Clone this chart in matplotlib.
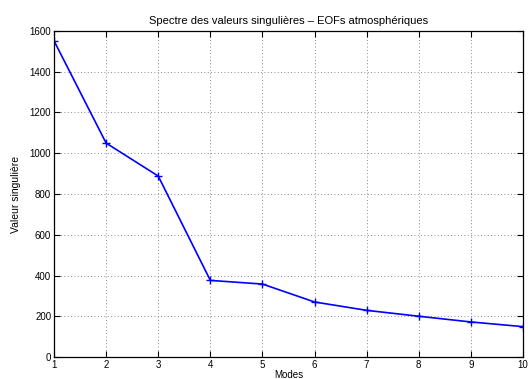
import matplotlib
matplotlib.use("Agg")
import matplotlib.pyplot as plt

plt.rcParams['font.family'] = ['Liberation Sans', 'DejaVu Sans']

modes = [1, 2, 3, 4, 5, 6, 7, 8, 9, 10]
valeurs = [1552, 1050, 888, 376, 358, 270, 229, 200, 172, 149]
yticks = [0, 200, 400, 600, 800, 1000, 1200, 1400, 1600]

fig = plt.figure(figsize=(5.28, 3.79), dpi=100)
ax = fig.add_axes([54/528, 22/379, 469/528, 326/379])
ax.plot(modes, valeurs, color='#0000ff', linewidth=1.2, marker='+', markersize=6, markeredgewidth=1.0)
ax.set_xlim(1, 10)
ax.set_ylim(0, 1600)
ax.set_xticks(modes)
ax.set_yticks(yticks)
ax.tick_params(direction='in', top=True, right=True, labelsize=7, length=4, width=0.8, pad=2)
ax.grid(True, linestyle=(0, (1, 3)), color='#666666', linewidth=0.6)
for s in ax.spines.values():
    s.set_linewidth(0.9)
ax.set_title('Spectre des valeurs singulières – EOFs atmosphériques', fontsize=8, pad=5)
ax.set_xlabel('Modes', fontsize=7, labelpad=0)
ax.set_ylabel('Valeur singulière', fontsize=7.5, labelpad=6)
fig.savefig('out.png', dpi=100)
